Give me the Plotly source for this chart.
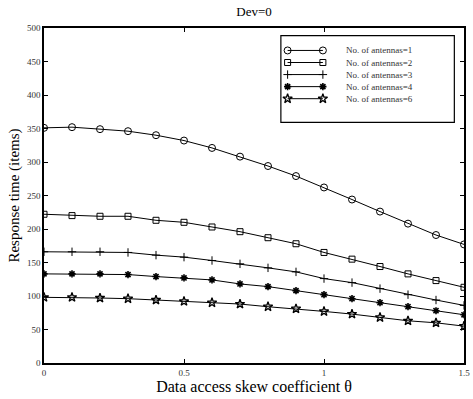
import plotly.graph_objects as go

theta = [0, 0.1, 0.2, 0.3, 0.4, 0.5, 0.6, 0.7, 0.8, 0.9, 1.0, 1.1, 1.2, 1.3, 1.4, 1.5]
ant1 = [351, 352, 349, 346, 340, 332, 321, 308, 294, 279, 262, 244, 226, 208, 191, 177]
ant2 = [222, 220, 219, 219, 213, 210, 203, 196, 187, 178, 165, 155, 144, 133, 123, 113]
ant3 = [166, 166, 166, 165, 161, 158, 153, 148, 142, 136, 126, 120, 111, 102, 94, 86]
ant4 = [133, 133, 133, 132, 129, 127, 124, 118, 114, 108, 102, 96, 90, 84, 78, 72]
ant6 = [98, 98, 97, 96, 94, 92, 90, 88, 84, 81, 77, 73, 68, 63, 60, 55]
names = ["No. of antennas=1", "No. of antennas=2", "No. of antennas=3",
         "No. of antennas=4", "No. of antennas=6"]
series = [ant1, ant2, ant3, ant4, ant6]
symbols = ["circle-open", "square-open", "cross-thin-open", "asterisk-open", "star-open"]
sizes = [7, 6, 6, 6, 7]
lws = [1, 1, 1, 1.6, 1.3]

FONT = "Liberation Serif"
fig = go.Figure()
for ys, nm, sy, sz, lw in zip(series, names, symbols, sizes, lws):
    fig.add_trace(go.Scatter(
        x=theta, y=ys, mode="lines+markers", name=nm, showlegend=False,
        line=dict(color="black", width=1),
        marker=dict(symbol=sy, size=sz, color="black", line=dict(color="black", width=lw)),
    ))

# manual legend (line sample with markers at both ends), in an overlay axis 0..1
lx0, lx1 = 0.58, 0.664
ly = [0.933, 0.897, 0.861, 0.825, 0.789]
for i, (nm, sy, sz, lw) in enumerate(zip(names, symbols, sizes, lws)):
    fig.add_trace(go.Scatter(
        x=[lx0, lx1], y=[ly[i], ly[i]], xaxis="x2", yaxis="y2", mode="lines+markers",
        showlegend=False, hoverinfo="skip",
        line=dict(color="black", width=1),
        marker=dict(symbol=sy, size=sz, color="black", line=dict(color="black", width=lw)),
    ))
    fig.add_annotation(x=0.715, y=ly[i], xref="x2", yref="y2", text=nm, showarrow=False,
                       xanchor="left", yanchor="middle",
                       font=dict(family=FONT, size=9, color="#333"))

fig.add_shape(type="rect", xref="paper", yref="paper", x0=0.564, x1=0.977, y0=0.718, y1=0.977,
              line=dict(color="black", width=1.2), fillcolor="white", layer="below")

axis_common = dict(
    showline=True, linecolor="black", linewidth=1.5, mirror="ticks",
    ticks="inside", ticklen=4, tickcolor="black", showgrid=False, zeroline=False,
    ticklabeloverflow="allow",
    tickfont=dict(family=FONT, size=9, color="#333"),
)
fig.update_layout(
    width=473, height=399,
    margin=dict(l=44, r=3, t=28, b=36),
    paper_bgcolor="white", plot_bgcolor="white",
    title=dict(text="Dev=0", x=0.5, xref="paper", y=0.982, yref="container",
               xanchor="center", yanchor="top",
               font=dict(family=FONT, size=13, color="black")),
    xaxis=dict(range=[0, 1.5], tickvals=[0, 0.5, 1, 1.5], ticktext=["0", "0.5", "1", "1.5"],
               title=dict(text="Data access skew coefficient θ", standoff=1,
                          font=dict(family=FONT, size=16, color="black")),
               **axis_common),
    yaxis=dict(range=[0, 500], tickvals=list(range(0, 501, 50)),
               title=dict(text="Response time (items)", standoff=4,
                          font=dict(family=FONT, size=15, color="black")),
               **axis_common),
    xaxis2=dict(range=[0, 1], overlaying="x", visible=False, fixedrange=True),
    yaxis2=dict(range=[0, 1], overlaying="y", visible=False, fixedrange=True),
)
fig.write_html("out.html")
